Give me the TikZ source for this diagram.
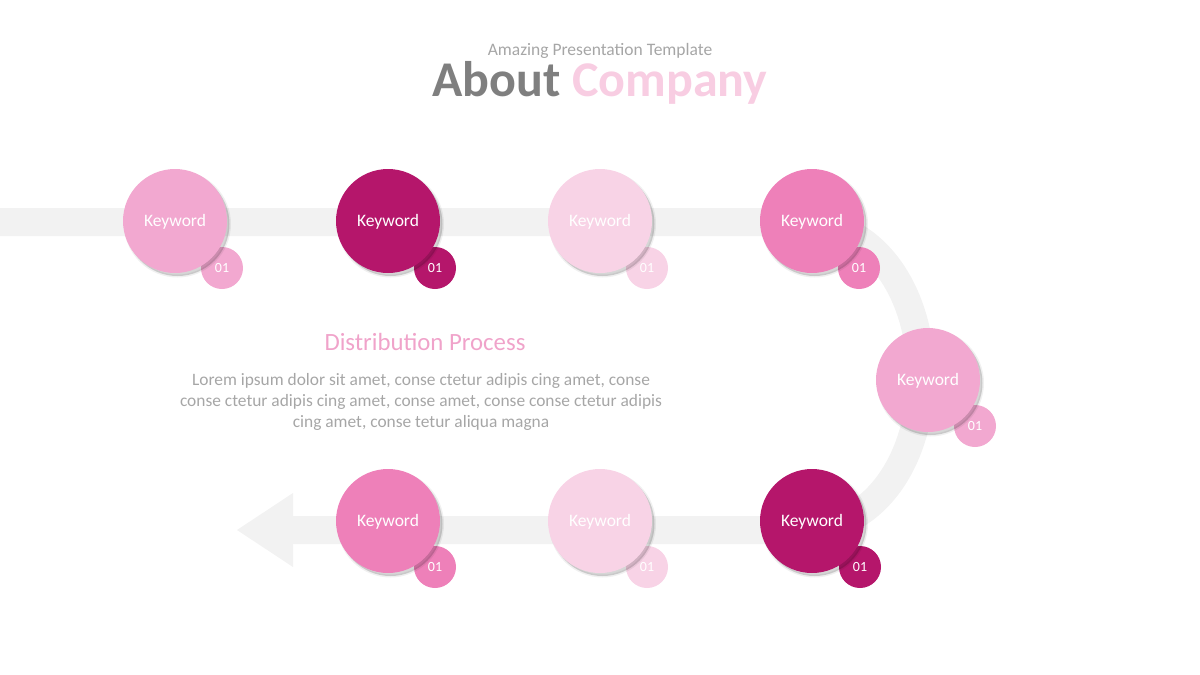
\documentclass[tikz,border=0pt]{standalone}
\usepackage{fontspec}
\setmainfont{Carlito}
\definecolor{bandgray}{HTML}{F2F2F2}
\definecolor{pkLight}{HTML}{F2A8D0}
\definecolor{pkDark}{HTML}{B5166B}
\definecolor{pkPale}{HTML}{F8D3E6}
\definecolor{pkMid}{HTML}{EE80B9}
\definecolor{txtgray}{HTML}{A6A6A6}
\definecolor{titlegray}{HTML}{7F7F7F}
\definecolor{titlepink}{HTML}{F8CDE2}
\definecolor{headpink}{HTML}{F0A3CA}
\newcommand{\kw}{\smash{\raisebox{-5.5pt}{Keyword}}}
\tikzset{
  bigc/.style={circle, minimum size=104pt, inner sep=0pt, text=white,
    font=\fontsize{17.5}{19}\selectfont,
    preaction={draw=black, line width=3pt, opacity=0.06, transform canvas={shift={(2.5pt,-3pt)}}},
    preaction={fill=black, opacity=0.16, transform canvas={shift={(2.5pt,-3pt)}}}},
  smallc/.style={circle, minimum size=42pt, inner sep=0pt, text=white,
    font=\fontsize{14}{16}\selectfont}
}
\begin{document}
\begin{tikzpicture}[x=1pt,y=-1pt]
\useasboundingbox (0,0) rectangle (1200,675);
% band
\draw[bandgray, line width=28pt] (0,222) -- (800,222)
  .. controls (880,222) and (921,300) .. (921,376)
  .. controls (921,452) and (880,530) .. (800,530) -- (292,530);
\fill[bandgray] (293,493) -- (237,530) -- (293,567) -- cycle;
% titles
\node[anchor=base, text=txtgray, font=\fontsize{17.5}{20}\selectfont] (sub) at (600,55) {Amazing Presentation Template};
\node[anchor=base, font=\bfseries\fontsize{50}{56}\selectfont] (title) at (600,96) {\textcolor{titlegray}{About} \textcolor{titlepink}{Company}};
\node[anchor=base, text=headpink, font=\fontsize{24.8}{28}\selectfont] (head) at (425,350) {Distribution Process};
\node[anchor=north, text=txtgray, align=center, font=\fontsize{17.4}{21}\selectfont] (body) at (421,370)
  {Lorem ipsum dolor sit amet, conse ctetur adipis cing amet, conse\\
   conse ctetur adipis cing amet, conse amet, conse conse ctetur adipis\\
   cing amet, conse tetur aliqua magna};
% circles: small first (behind big)
\node[smallc, fill=pkLight] (s1) at (222,268) {01};
\node[smallc, fill=pkDark]  (s2) at (435,268) {01};
\node[smallc, fill=pkPale]  (s3) at (647,268) {01};
\node[smallc, fill=pkMid]   (s4) at (859,268) {01};
\node[smallc, fill=pkLight] (s5) at (975,426) {01};
\node[smallc, fill=pkMid]   (s6) at (435,567) {01};
\node[smallc, fill=pkPale]  (s7) at (647,567) {01};
\node[smallc, fill=pkDark]  (s8) at (860,567) {01};
\node[bigc, fill=pkLight] (k1) at (175,221) {\kw};
\node[bigc, fill=pkDark]  (k2) at (388,221) {\kw};
\node[bigc, fill=pkPale]  (k3) at (600,221) {\kw};
\node[bigc, fill=pkMid]   (k4) at (812,221) {\kw};
\node[bigc, fill=pkLight] (k5) at (928,380) {\kw};
\node[bigc, fill=pkMid]   (k6) at (388,521) {\kw};
\node[bigc, fill=pkPale]  (k7) at (600,521) {\kw};
\node[bigc, fill=pkDark]  (k8) at (812,521) {\kw};
\end{tikzpicture}
\end{document}
